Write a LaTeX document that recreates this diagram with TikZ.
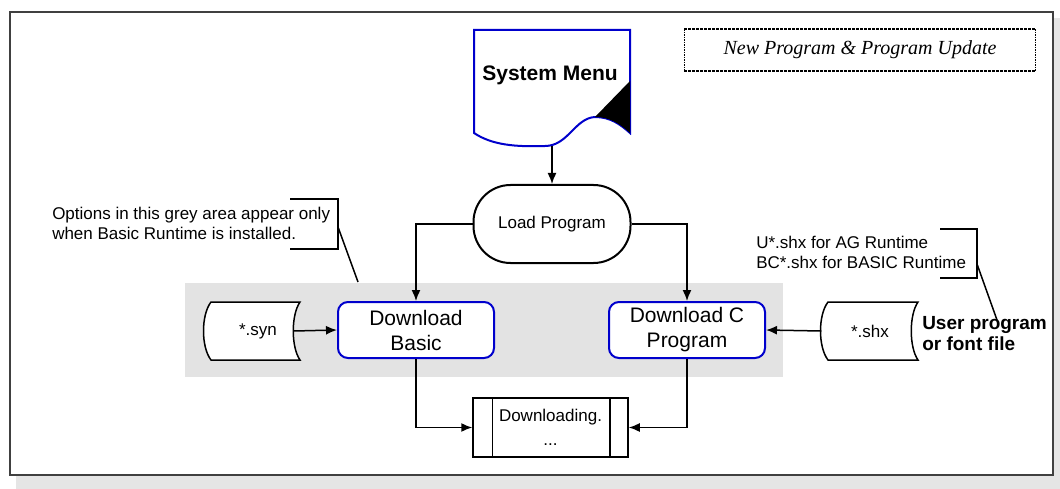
\documentclass[tikz,border=0pt]{standalone}
\usepackage{fontspec}
\setmainfont{Liberation Sans}
\newfontfamily\titlefont{Liberation Serif}
\usetikzlibrary{
    calc,
    arrows.meta
}
\tikzset{
  every path/.style={
    black,
    line width=1.5pt
  },
  every node/.style={
    inner sep=1.5pt,
    font=\fontsize{17}{20}\selectfont
  },
  bluebox/.style={
    draw=blue!80!black,
    line width=2pt,
    rounded corners=10pt,
    fill=white,
    minimum width=156pt,
    minimum height=56pt,
    align=center,
    font=\fontsize{21}{25}\selectfont
  },
  filetext/.style={
    minimum height=58pt,
    font=\fontsize{17}{20}\selectfont
  }
}

\begin{document}
\begin{tikzpicture}[x=1pt,y=-1pt,>={Latex[length=11pt,width=9pt]}]
    \useasboundingbox (0,0) rectangle (1060,489);

    % 枠
    \fill[black!10] (16,476) rectangle (1060,489);
    \fill[black!10] (1054,18) rectangle (1060,489);
    \fill[white] (10,12) rectangle (1053,475);
    \draw[black!75,line width=2pt] (10,12) rectangle (1053,475);

    % タイトル
    \node[minimum width=350pt,minimum height=40pt,
          font=\titlefont\itshape\fontsize{20}{22}\selectfont]
        (title) at (860,50) {New Program \& Program Update};
    \draw[dash pattern=on 3pt off 1pt,line width=1.8pt] (title.north west) -- (title.north east);
    \draw[dash pattern=on 3pt off 1pt,line width=1.8pt] (title.south west) -- (title.south east);
    \draw[densely dotted,line width=0.8pt] (title.north west) -- (title.south west);
    \draw[densely dotted,line width=0.8pt] (title.north east) -- (title.south east);

    % System Menu
    \draw[blue!80!black,line width=2pt,fill=white]
        (474,30) -- (630,30) -- (630,133)
        .. controls (620,124) and (610,117) .. (595,117)
        .. controls (575,118) and (568,146) .. (545,146)
        .. controls (515,147) and (492,145) .. (474,133) -- cycle;
    \fill (595,117) -- (630,81) -- (630,133)
        .. controls (620,124) and (610,117) .. (595,117) -- cycle;
    \node[font=\bfseries\fontsize{21}{24}\selectfont] (menu) at (550,75) {System Menu};
    \coordinate (menubot) at (552,146);

    % Load Program
    \node[draw,line width=2pt,rounded corners=37pt,
          minimum width=157pt,minimum height=78pt,fill=white]
        (load) at (552,224) {Load Program};
    \draw[->] (menubot) -- (load.north);

    % 灰色の領域
    \fill[black!11] (185,283) rectangle (783,377);

    % ダウンロード
    \node[bluebox] (basic) at (416,330) {Download\\Basic};
    \node[bluebox] (cprog) at (687,330) {Download C\\Program};
    \draw[->] (load.west) -| (basic.north);
    \draw[->] (load.east) -| (cprog.north);

    % ファイル
    \draw[fill=white] (211,302) -- (300,302)
        .. controls (291,315) and (291,347) .. (300,360) -- (211,360)
        .. controls (201,347) and (201,315) .. (211,302) -- cycle;
    \node[filetext,minimum width=70pt] (syn) at (258,331) {*.syn};
    \draw[fill=white] (828,302) -- (918,302)
        .. controls (909,315) and (909,347) .. (918,360) -- (828,360)
        .. controls (818,347) and (818,315) .. (828,302) -- cycle;
    \node[filetext,minimum width=96pt] (shx) at (870,331) {*.shx};
    \draw[->] (syn.east) -- (basic.west);
    \draw[->] (shx.west) -- (cprog.east);

    % Downloading
    \node[draw,fill=white,minimum width=155pt,minimum height=59pt,align=center,
          font=\fontsize{17}{24}\selectfont]
        (dl) at (550.5,427.5) {Downloading.\\...};
    \draw ($(dl.north west)+(20,0)$) -- ($(dl.south west)+(20,0)$);
    \draw ($(dl.north east)+(-19,0)$) -- ($(dl.south east)+(-19,0)$);
    \draw[->] (basic.south) |- (dl.west);
    \draw[->] (cprog.south) |- (dl.east);

    % 注釈
    \node[anchor=west,align=left] (optnote) at (50,223)
        {Options in this grey area appear only\\when Basic Runtime is installed.};
    \draw (290,199) -- (338,199) -- (338,249) -- (290,249);
    \coordinate (optbr) at (338,227);
    \coordinate (greytop) at (358,282);
    \draw (optbr) -- (greytop);

    \node[anchor=west,align=left] (shxnote) at (754,252)
        {U*.shx for AG Runtime\\BC*.shx for BASIC Runtime};
    \draw (940,229) -- (977,229) -- (977,278) -- (940,278);
    \node[anchor=west,align=left,font=\bfseries\fontsize{19}{21}\selectfont]
        (userfile) at (920,334) {User program\\or font file};
    \coordinate (shxbr) at (977,264);
    \coordinate (userend) at (997,320);
    \draw (shxbr) -- (userend);
\end{tikzpicture}
\end{document}
